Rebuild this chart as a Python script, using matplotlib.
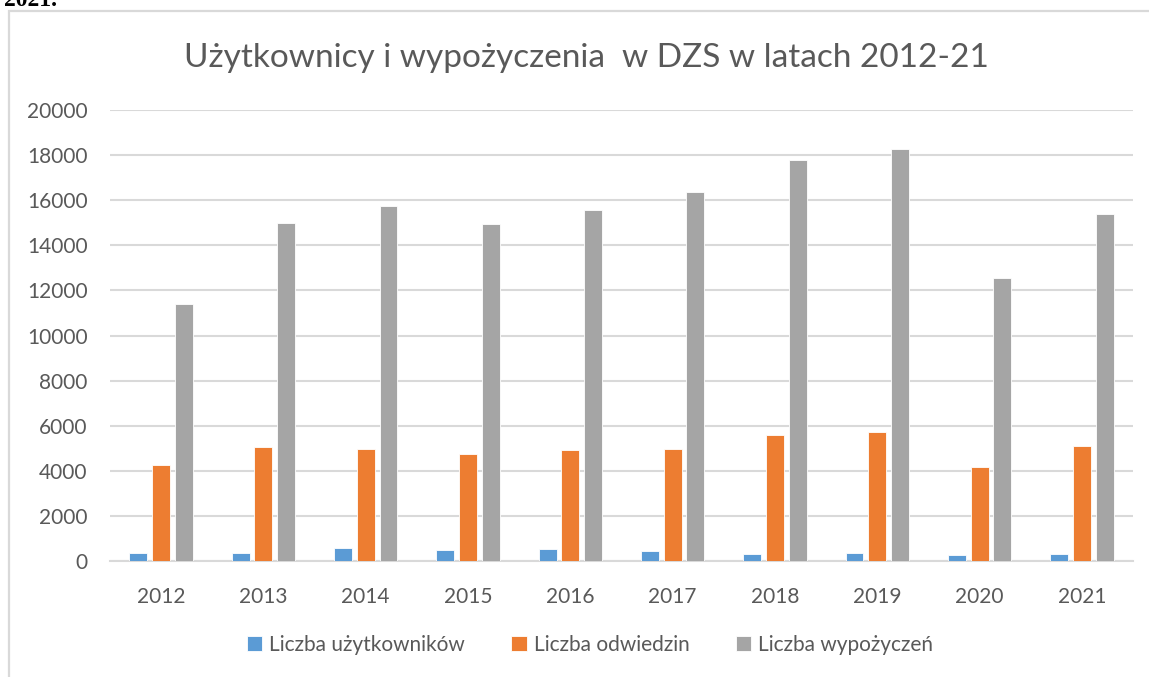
import numpy as np
import matplotlib.pyplot as plt
from matplotlib.patches import Rectangle

years = ["2012", "2013", "2014", "2015", "2016", "2017", "2018", "2019", "2020", "2021"]
uzytkownicy = [370, 370, 595, 475, 550, 430, 310, 370, 255, 310]
odwiedziny = [4250, 5040, 4980, 4760, 4920, 4980, 5575, 5720, 4180, 5100]
wypozyczenia = [11400, 15000, 15740, 14950, 15570, 16360, 17780, 18270, 12550, 15390]

series_names = ["Liczba użytkowników", "Liczba odwiedzin", "Liczba wypożyczeń"]
colors = ["#5B9BD5", "#ED7D31", "#A5A5A5"]
text_col = "#595959"
grid_col = "#D9D9D9"

plt.rcParams['font.family'] = ['Lato', 'DejaVu Sans']

W, H = 1149, 677
fig = plt.figure(figsize=(W / 100, H / 100), dpi=100)

# chart frame (runs past the right/bottom edges of the crop)
fig.patches.append(Rectangle((9 / W, -0.1), 1.2, 1 - 11 / H + 0.1,
                             transform=fig.transFigure, fill=False,
                             edgecolor=grid_col, linewidth=1.6))

# caption line from the page above, cut off at the top like in the source
fig.text(4 / W, 1 - 6 / H, "2021.", fontsize=17, fontweight='bold',
         family='Liberation Serif', va='baseline', ha='left')

ax = fig.add_axes([110 / W, 116 / H, 1023 / W, 451 / H])

x = np.arange(len(years))
width = 0.175
step = 0.222
for i, (vals, name) in enumerate(zip([uzytkownicy, odwiedziny, wypozyczenia], series_names)):
    ax.bar(x + (i - 1) * step, vals, width, color=colors[i], label=name,
           edgecolor='white', linewidth=0.6, zorder=3)

ax.set_xlim(-0.5, len(years) - 0.5)
ax.set_ylim(0, 20000)
ax.set_yticks(np.arange(0, 20001, 2000))
ax.set_xticks(x)
ax.set_xticklabels(years)
ax.yaxis.grid(True, color=grid_col, linewidth=1.5, zorder=0)
ax.set_axisbelow(True)
for s in ['top', 'right', 'left']:
    ax.spines[s].set_visible(False)
ax.spines['bottom'].set_color(grid_col)
ax.spines['bottom'].set_linewidth(1.5)
ax.tick_params(axis='both', length=0, labelsize=15, colors=text_col)
ax.tick_params(axis='y', pad=16)
ax.tick_params(axis='x', pad=19)

fig.text(586 / W, 1 - 58 / H, "Użytkownicy i wypożyczenia  w DZS w latach 2012-21",
         fontsize=24, color=text_col, ha='center', va='center')

handles, labels = ax.get_legend_handles_labels()
leg = fig.legend(handles, labels, loc='center', bbox_to_anchor=(590 / W, 1 - 645 / H),
                 ncol=3, frameon=False, fontsize=15, handlelength=0.75,
                 handleheight=0.75, handletextpad=0.35, columnspacing=2.2)
for t in leg.get_texts():
    t.set_color(text_col)

fig.savefig("out.png", dpi=100)
